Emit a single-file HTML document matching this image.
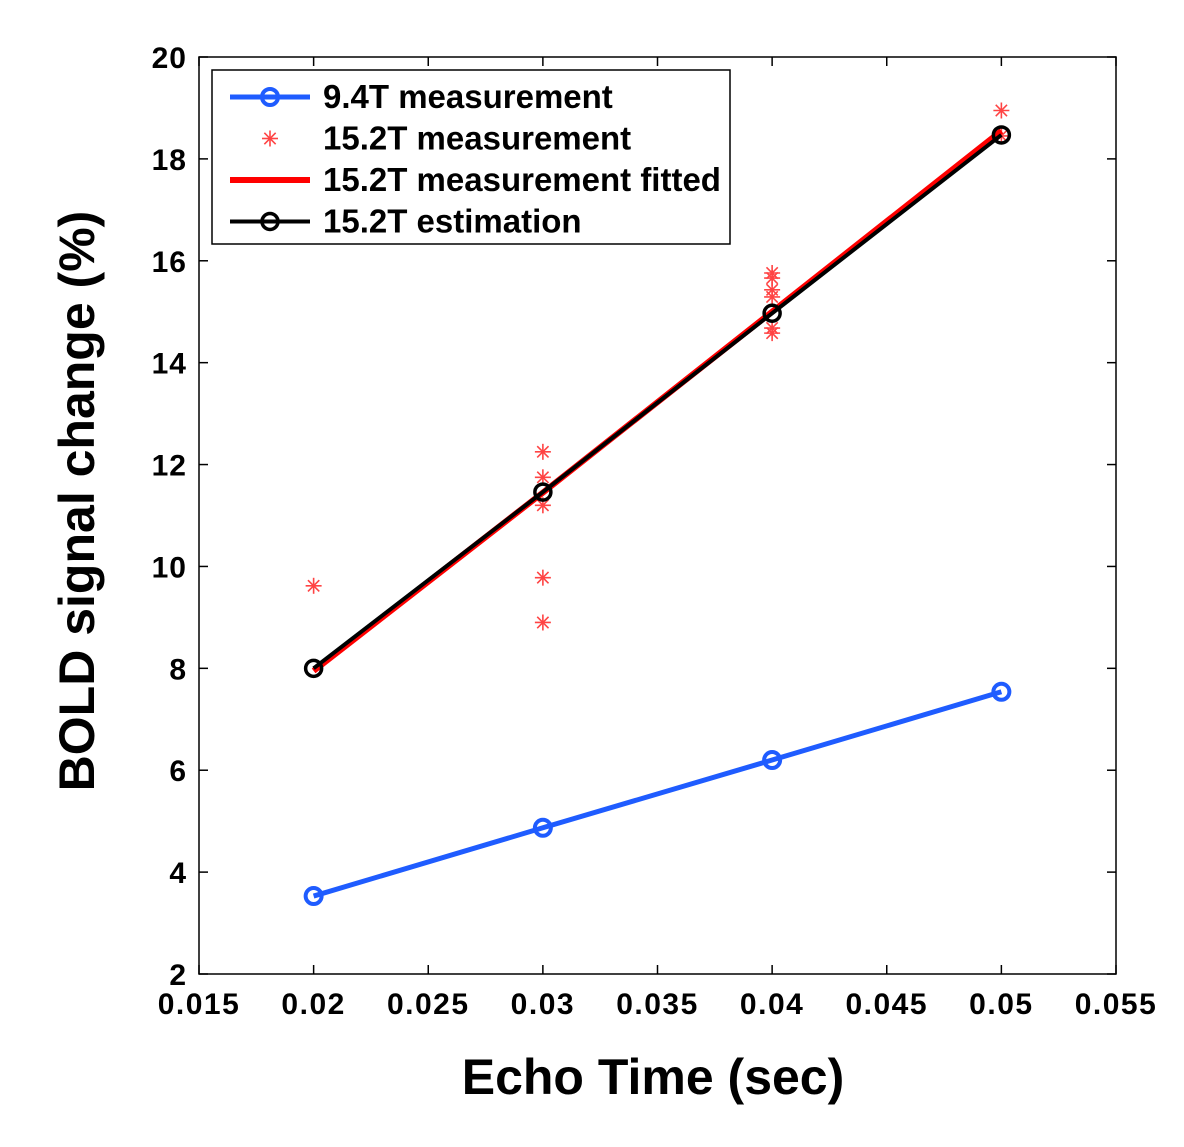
<!DOCTYPE html>
<html><head><meta charset="utf-8"><style>body{margin:0;background:#fff}svg text{font-family:"Liberation Sans",Arial,sans-serif;font-weight:bold}</style></head>
<body>
<svg id="c" width="1184" height="1142"></svg>
<script>
const xTicks=[0.015,0.02,0.025,0.03,0.035,0.04,0.045,0.05,0.055];
const xTickLabels=["0.015","0.02","0.025","0.03","0.035","0.04","0.045","0.05","0.055"];
const yTicks=[2,4,6,8,10,12,14,16,18,20];
const echoTimes=[0.02,0.03,0.04,0.05];
const blue94=[3.53,4.87,6.2,7.54];
const est152=[8.0,11.46,14.97,18.47];
const fit152=[7.95,11.45,15.0,18.55];
const starX=[0.02,0.03,0.03,0.03,0.03,0.03,0.04,0.04,0.04,0.04,0.04,0.04,0.05,0.05];
const starY=[9.62,12.25,11.75,11.2,9.78,8.9,15.76,15.66,15.43,15.29,14.68,14.58,18.95,18.45];
const NS="http://www.w3.org/2000/svg",svg=document.getElementById('c');
const L=199,R=1116,T=57,B=974;
const sx=v=>L+(v-0.015)/0.04*(R-L), sy=v=>B-(v-2)/18*(B-T);
function el(t,a,p){const e=document.createElementNS(NS,t);for(const k in a)e.setAttribute(k,a[k]);(p||svg).appendChild(e);return e;}
const box=el('rect',{x:L,y:T,width:R-L,height:B-T,fill:'#fff',stroke:'#000','stroke-width':1.5});


xTicks.forEach((v,i)=>{const x=sx(v);
 el('line',{x1:x,x2:x,y1:B,y2:B-9,stroke:'#000','stroke-width':1.5});el('line',{x1:x,x2:x,y1:T,y2:T+9,stroke:'#000','stroke-width':1.5});
 const t=el('text',{x:x,y:B+40,'text-anchor':'middle','font-size':30,'letter-spacing':1.5});t.textContent=xTickLabels[i];
 
 });
yTicks.forEach(v=>{const y=sy(v);
 el('line',{x1:L,x2:L+9,y1:y,y2:y,stroke:'#000','stroke-width':1.5});el('line',{x1:R,x2:R-9,y1:y,y2:y,stroke:'#000','stroke-width':1.5});
 const t=el('text',{x:L-12,y:y+11,'text-anchor':'end','font-size':30,'letter-spacing':1});t.textContent=v;
 
 });
const xt=el('text',{x:653,y:1094,'text-anchor':'middle','font-size':50});xt.textContent='Echo Time (sec)';


const yt=el('text',{x:0,y:0,'text-anchor':'middle','font-size':50,transform:'translate(94,501) rotate(-90)'});yt.textContent='BOLD signal change (%)';


function poly(ys,col,w,name){const p=el('polyline',{points:echoTimes.map((x,i)=>sx(x)+','+sy(ys[i])).join(' '),fill:'none',stroke:col,'stroke-width':w});
 
 }
function star(cx,cy,g){[0,45,90,135].forEach(a=>{const r=a*Math.PI/180,d=8;el('line',{x1:cx-d*Math.cos(r),y1:cy-d*Math.sin(r),x2:cx+d*Math.cos(r),y2:cy+d*Math.sin(r),stroke:'#f44','stroke-width':1.6},g);});}
poly(blue94,'#1f5cff',5,'line-9-4t');
echoTimes.forEach((x,i)=>{const c=el('circle',{cx:sx(x),cy:sy(blue94[i]),r:8,fill:'none',stroke:'#1f5cff','stroke-width':4});
 
 });
starX.forEach((x,i)=>{const g=el('g',{});
 star(sx(x),sy(starY[i]),g);});
poly(fit152,'#f00',6,'line-15-2t-fitted');
poly(est152,'#000',4,'line-15-2t-estimation');
echoTimes.forEach((x,i)=>{const c=el('circle',{cx:sx(x),cy:sy(est152[i]),r:8,fill:'none',stroke:'#000','stroke-width':3.5});
 
 });
const lg=el('g',{});

el('rect',{x:212,y:70,width:518,height:174,fill:'#fff',stroke:'#000','stroke-width':1.5},lg);
const items=[['9.4T measurement','blue'],['15.2T measurement','star'],['15.2T measurement fitted','red'],['15.2T estimation','black']];
items.forEach((it,i)=>{const y=97+i*41.5;
 if(it[1]=='blue'){el('line',{x1:230,x2:310,y1:y,y2:y,stroke:'#1f5cff','stroke-width':5},lg);el('circle',{cx:270,cy:y,r:8,fill:'none',stroke:'#1f5cff','stroke-width':4},lg);}
 if(it[1]=='star')star(270,y,lg);
 if(it[1]=='red')el('line',{x1:230,x2:310,y1:y,y2:y,stroke:'#f00','stroke-width':6},lg);
 if(it[1]=='black'){el('line',{x1:230,x2:310,y1:y,y2:y,stroke:'#000','stroke-width':4},lg);el('circle',{cx:270,cy:y,r:8,fill:'none',stroke:'#000','stroke-width':3.5},lg);}
 const t=el('text',{x:323,y:y+11,'font-size':33},lg);t.textContent=it[0];
 
 });
</script>
</body></html>
